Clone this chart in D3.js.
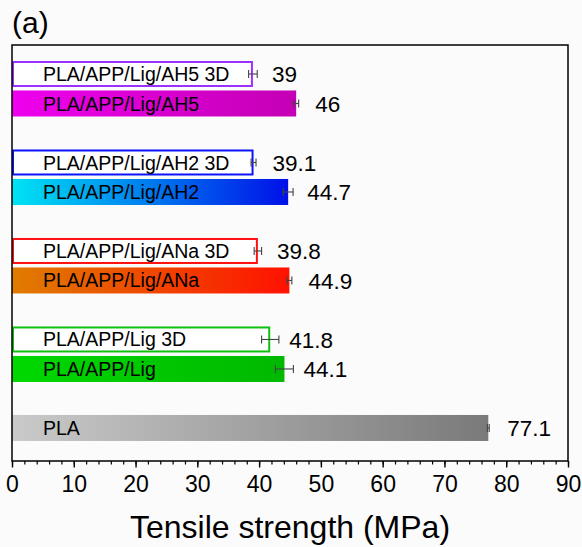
<!DOCTYPE html>
<html>
<head>
<meta charset="utf-8">
<script src="https://cdn.jsdelivr.net/npm/d3@7/dist/d3.min.js"></script>
<style>
  html, body { margin: 0; padding: 0; background: #fbfbfb; }
  svg { display: block; font-family: "Liberation Sans", Arial, sans-serif; }
</style>
</head>
<body>
<svg id="chart" width="582" height="547"></svg>
<script>
// Sample names, top to bottom; each group = 3D-printed version + conventional
const groups = ["AH5", "AH2", "ANa", "Lig", "PLA"];
const labels = [
  "PLA/APP/Lig/AH5 3D", "PLA/APP/Lig/AH5",
  "PLA/APP/Lig/AH2 3D", "PLA/APP/Lig/AH2",
  "PLA/APP/Lig/ANa 3D", "PLA/APP/Lig/ANa",
  "PLA/APP/Lig 3D", "PLA/APP/Lig",
  "PLA"
];
const groupOf = ["AH5", "AH5", "AH2", "AH2", "ANa", "ANa", "Lig", "Lig", "PLA"];
const printed = [true, false, true, false, true, false, true, false, false];
// Tensile strength (MPa) and standard deviation
const strength = [39, 46, 39.1, 44.7, 39.8, 44.9, 41.8, 44.1, 77.1];
const stdev = [0.7, 0.4, 0.4, 0.8, 0.6, 0.4, 1.4, 1.45, 0.15];
const xTicks = [0, 10, 20, 30, 40, 50, 60, 70, 80, 90];

// Colours per group: outline for 3D boxes, gradient start/end for solid bars
const outline = { AH5: "#9b30ff", AH2: "#0a14ff", ANa: "#ff1010", Lig: "#10c010", PLA: "#888" };
const gradFrom = { AH5: "#ee00ee", AH2: "#00e4f4", ANa: "#e07c00", Lig: "#00d800", PLA: "#cacaca" };
const gradTo   = { AH5: "#c400b4", AH2: "#0010e8", ANa: "#ff1200", Lig: "#00b800", PLA: "#7a7a7a" };

const svg = d3.select("#chart");
const frame = { left: 12, right: 568, top: 45, bottom: 461 };

const x = d3.scaleLinear().domain([0, 90]).range([frame.left, frame.right]);

// Row slot: each group takes three rows (two bars plus a gap)
const rowIndex = labels.map((d, i) => groups.indexOf(groupOf[i]) * 3 + (printed[i] || groupOf[i] === "PLA" ? 0 : 1));
const y = d3.scaleLinear().domain([-0.983, 13.12]).range([frame.top, frame.bottom]);
const barH = 26;

const defs = svg.append("defs");
groups.forEach(g => {
  const lg = defs.append("linearGradient").attr("id", "grad-" + g)
    .attr("x1", "0%").attr("x2", "100%").attr("y1", "0%").attr("y2", "0%");
  lg.append("stop").attr("offset", "0%").attr("stop-color", gradFrom[g]);
  lg.append("stop").attr("offset", "100%").attr("stop-color", gradTo[g]);
});

const rows = labels.map((name, i) => ({
  name, group: groupOf[i], printed: printed[i], v: strength[i], sd: stdev[i], row: rowIndex[i]
}));

// Bars
svg.append("g").selectAll("rect").data(rows).join("rect")
  .attr("x", d => x(0) + (d.printed ? 1 : 0))
  .attr("y", d => y(d.row) - barH / 2 + (d.printed ? 1 : 0))
  .attr("width", d => x(d.v) - x(0) - (d.printed ? 2 : 0))
  .attr("height", d => barH - (d.printed ? 2 : 0))
  .attr("fill", d => d.printed ? "#ffffff" : `url(#grad-${d.group})`)
  .attr("stroke", d => d.printed ? outline[d.group] : "none")
  .attr("stroke-width", 2);

// Error bars
const eb = svg.append("g").attr("stroke", "#444").attr("stroke-width", 1.1).attr("fill", "none");
rows.forEach(d => {
  const cy = y(d.row);
  const x0 = x(d.v - d.sd), x1 = x(d.v + d.sd);
  eb.append("line").attr("x1", x0).attr("x2", x1).attr("y1", cy).attr("y2", cy);
  eb.append("line").attr("x1", x0).attr("x2", x0).attr("y1", cy - 4).attr("y2", cy + 4);
  eb.append("line").attr("x1", x1).attr("x2", x1).attr("y1", cy - 4).attr("y2", cy + 4);
});

// Names inside bars
svg.append("g").selectAll("text").data(rows).join("text")
  .attr("x", 43)
  .attr("y", d => y(d.row))
  .attr("dy", "0.36em")
  .attr("font-size", 19.5)
  .attr("fill", "#000")
  .text(d => d.name);

// Values beside bars
svg.append("g").selectAll("text").data(rows).join("text")
  .attr("x", d => x(d.v) + 19)
  .attr("y", d => y(d.row))
  .attr("dy", "0.36em")
  .attr("font-size", 22.5)
  .attr("fill", "#000")
  .text(d => d3.format("")(d.v));

// Frame
svg.append("rect")
  .attr("x", frame.left).attr("y", frame.top)
  .attr("width", frame.right - frame.left).attr("height", frame.bottom - frame.top)
  .attr("fill", "none").attr("stroke", "#000").attr("stroke-width", 1.5);

// Bottom axis with major and minor ticks
const axis = svg.append("g").attr("transform", `translate(0,${frame.bottom})`);
axis.call(d3.axisBottom(x).tickValues(d3.range(0, 91, 2)).tickSize(3.5).tickFormat(""))
  .call(g => g.select(".domain").remove())
  .call(g => g.selectAll("line").attr("stroke", "#000").attr("stroke-width", 1.2));
const major = svg.append("g").attr("transform", `translate(0,${frame.bottom})`);
major.call(d3.axisBottom(x).tickValues(xTicks).tickSize(6.5).tickFormat(d3.format("d")))
  .call(g => g.select(".domain").remove())
  .call(g => g.selectAll("line").attr("stroke", "#000").attr("stroke-width", 1.4))
  .call(g => g.selectAll("text").attr("font-size", 23).attr("fill", "#000")
    .attr("font-family", "'Liberation Sans', Arial, sans-serif")
    .attr("y", 31).attr("dy", null));

// Axis title
svg.append("text")
  .attr("x", 290)
  .attr("y", 538)
  .attr("text-anchor", "middle")
  .attr("font-size", 32)
  .attr("fill", "#000")
  .text("Tensile strength (MPa)");

// Panel tag
svg.append("text")
  .attr("x", 12).attr("y", 33)
  .attr("font-size", 30)
  .attr("fill", "#000")
  .text("(a)");
</script>
</body>
</html>
